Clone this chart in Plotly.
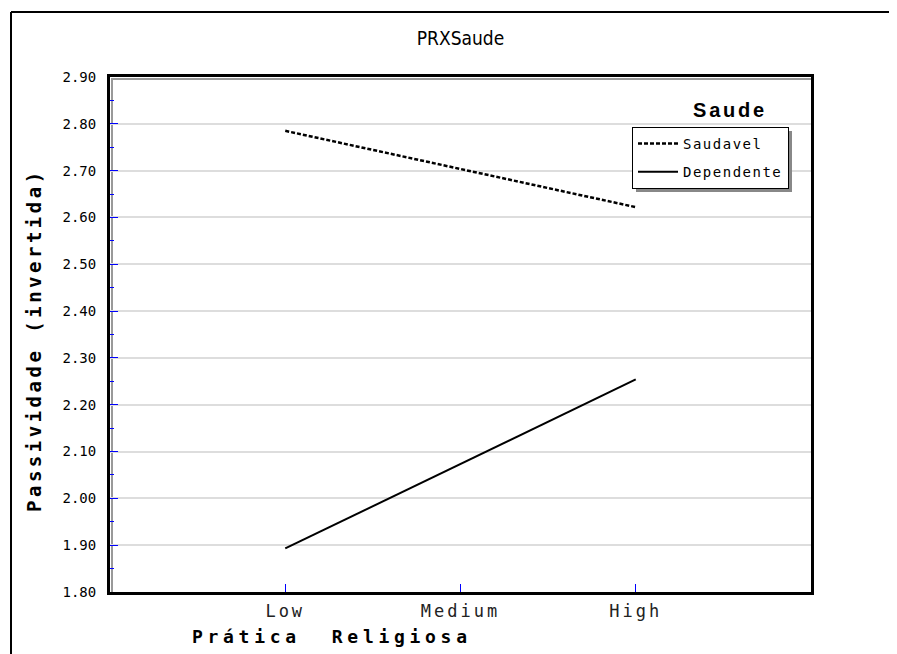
import plotly.graph_objects as go

# ---- data ----
categories = ["Low", "Medium", "High"]
saudavel = [2.785, 2.703, 2.622]
dependente = [1.893, 2.074, 2.254]
series_names = ["Saudavel", "Dependente"]
y_tick_values = [1.80, 1.90, 2.00, 2.10, 2.20, 2.30, 2.40, 2.50, 2.60, 2.70, 2.80, 2.90]

OFF = 8  # default page body margin
W, H = 897, 654            # reference canvas in px
L, R, T, B = 110, 811, 77, 592  # plot area in reference px


def px2x(px):
    return (px - L) / (R - L)


def py2y(py):
    return (B - py) / (B - T)


def spaced(s, sp):
    return f'<span style="letter-spacing:{sp}px">{s}</span>'


mono = "DejaVu Sans Mono"

fig = go.Figure()
fig.add_trace(go.Scatter(
    x=categories, y=saudavel, mode="lines", name=spaced(series_names[0], 1.5),
    legendgroup="a",
    line=dict(color="black", width=2.5, dash="4px,2px"),
))
fig.add_trace(go.Scatter(
    x=categories, y=dependente, mode="lines", name=spaced(series_names[1], 1.5),
    legendgroup="b",
    line=dict(color="black", width=2),
))

shapes = [
    # shadow of plot frame
    dict(type="rect", xref="paper", yref="paper",
         x0=px2x(L + 2), x1=px2x(R + 2), y0=py2y(B + 2), y1=py2y(T + 2),
         line=dict(color="#999999", width=2), layer="below"),
    # outer frame lines (top and left)
    dict(type="line", xref="paper", yref="paper",
         x0=px2x(11), x1=px2x(W + 5), y0=py2y(12), y1=py2y(12),
         line=dict(color="black", width=2)),
    dict(type="line", xref="paper", yref="paper",
         x0=px2x(11), x1=px2x(11), y0=py2y(12), y1=py2y(H + 5),
         line=dict(color="black", width=2)),
    # legend shadow
    dict(type="rect", xref="paper", yref="paper",
         x0=px2x(636), x1=px2x(792), y0=py2y(192), y1=py2y(131),
         fillcolor="#888888", line=dict(width=0)),
]

annotations = [
    dict(text=spaced("<b>Passividade (invertida)</b>", 3.5), xref="paper", yref="paper",
         x=px2x(34), y=py2y(340), textangle=-90, showarrow=False,
         xanchor="center", yanchor="middle",
         font=dict(family=mono, size=19, color="black")),
    dict(text=spaced("<b>Prática  Religiosa</b>", 4.7), xref="paper", yref="paper",
         x=px2x(332), y=py2y(636), showarrow=False,
         xanchor="center", yanchor="middle",
         font=dict(family=mono, size=18, color="black")),
    dict(text=spaced("<b>Saude</b>", 2.8), xref="paper", yref="paper",
         x=px2x(730), y=py2y(110), showarrow=False,
         xanchor="center", yanchor="middle",
         font=dict(family="Liberation Sans, Arial", size=20, color="black")),
]

fig.update_layout(
    width=W - OFF, height=H - OFF,
    margin=dict(l=L - OFF, r=W - R, t=T - OFF, b=H - B),
    paper_bgcolor="white", plot_bgcolor="white",
    title=dict(text="PRXSaude", x=0.5, xref="paper", xanchor="center",
               y=1 - (38 - OFF) / (H - OFF), yref="container", yanchor="middle",
               font=dict(family="Liberation Sans Narrow, DejaVu Sans Condensed, Arial Narrow",
                         size=19, color="black")),
    showlegend=True,
    legend=dict(x=px2x(632), y=py2y(127), xanchor="left", yanchor="top",
                bgcolor="white", bordercolor="black", borderwidth=1,
                traceorder="grouped", tracegroupgap=7, itemwidth=40,
                font=dict(family=mono, size=14, color="black")),
    shapes=shapes,
    annotations=annotations,
)

fig.update_xaxes(
    type="category", range=[-1, 3],
    tickvals=categories, ticktext=[spaced(c, 3) for c in categories],
    ticks="inside", ticklen=8, tickcolor="blue", tickwidth=1,
    showgrid=False, zeroline=False,
    showline=True, linecolor="black", linewidth=3, mirror=True,
    tickfont=dict(family=mono, size=17, color="#222222"),
    ticklabelstandoff=2,
)
fig.update_yaxes(
    range=[1.80, 2.90], tickvals=y_tick_values, tickformat=".2f",
    ticks="inside", ticklen=8, tickcolor="blue", tickwidth=1,
    minor=dict(dtick=0.05, tick0=1.8, ticks="inside", ticklen=4, tickcolor="blue", showgrid=False),
    showgrid=True, gridcolor="#dddddd", gridwidth=1.5,
    zeroline=False,
    showline=True, linecolor="black", linewidth=3, mirror=True,
    tickfont=dict(family=mono, size=14, color="black"),
    ticklabelstandoff=8,
)

fig.write_html("out.html")
